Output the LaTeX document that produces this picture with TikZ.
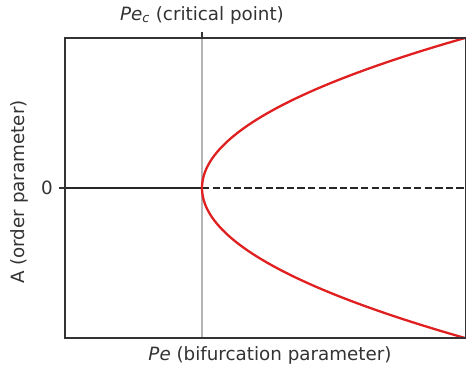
\documentclass[tikz,border=0pt]{standalone}
\usepackage{fontspec}
\setmainfont{DejaVu Sans}
\usepackage{tikz}
\usetikzlibrary{positioning}
\definecolor{axisgrey}{HTML}{333333}
\definecolor{critgrey}{HTML}{B4B4B4}
\definecolor{branchred}{HTML}{E02020}

\begin{document}
\begin{tikzpicture}[x=1pt, y=-1pt,
    lbl/.style={font=\fontsize{18.3}{22}\selectfont, text=axisgrey, inner sep=0pt},
    frame/.style={draw=axisgrey, line width=1.2pt},
    tick/.style={axisgrey, line width=1.2pt},
    crit/.style={critgrey, line width=1.8pt},
    stable/.style={black!85, line width=2.9pt},
    unstable/.style={black!85, line width=2.9pt, dash pattern=on 7.3pt off 3.3pt},
    branch/.style={branchred, line width=2.3pt}
]
\useasboundingbox (0,0) rectangle (466,367);

% Axes corners
\coordinate (tl) at (65,38);
\coordinate (br) at (466,338);
\coordinate (zl) at (65,188);
\coordinate (zr) at (466,188);
\coordinate (pc) at (202,188);
\coordinate (pctop) at (202,38);
\coordinate (pcbot) at (202,338);

% Critical line
\draw[crit] (pctop) -- (pcbot);

% Zero solution: stable left, unstable right
\draw[stable] (zl) -- (pc);
\draw[unstable] (pc) -- (zr);

% Pitchfork branches
\draw[branch] plot[domain=-150:150, samples=120, smooth] ({202+(\x/9.25)^2}, {188+\x});

% Frame and ticks
\draw[frame] (tl) rectangle (br);
\draw[tick] (59,188) -- (zl);
\draw[tick] (202,32) -- (pctop);

% Labels
\node[lbl] (zero) at (47,188) {0};
\node[lbl, anchor=base] (title) at (202,20) {\textit{Pe}\textsubscript{\textit{c}} (critical point)};
\node[lbl, anchor=base] (xlab) at (270,360) {\textit{Pe} (bifurcation parameter)};
\node[lbl, rotate=90] (ylab) at (19,192) {A (order parameter)};

\end{tikzpicture}
\end{document}
